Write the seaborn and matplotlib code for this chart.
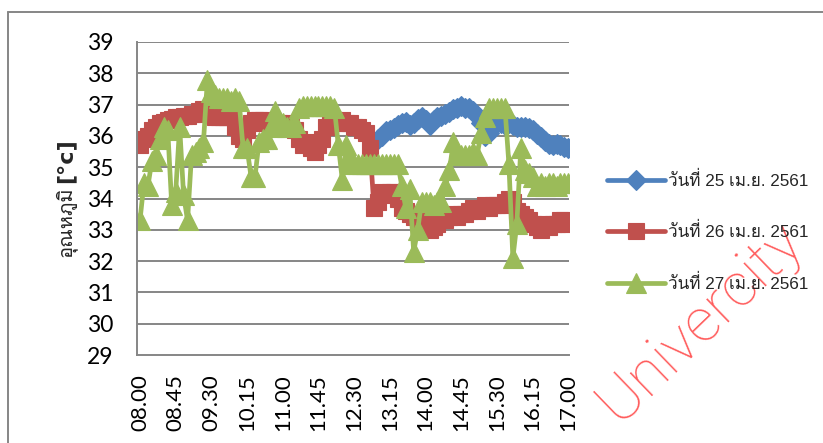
import numpy as np
import pandas as pd
import matplotlib
matplotlib.use("Agg")
import matplotlib.pyplot as plt
from matplotlib.lines import Line2D
from matplotlib import font_manager as fm
from matplotlib.ft2font import FT2Font
import seaborn as sns

# ---------------------------------------------------------------- data
# readings every 5 minutes from 08.00 to 17.00 (109 samples)
times = [f"{8 + m // 60:02d}.{m % 60:02d}" for m in range(0, 541, 5)]
tick_labels = ["08.00", "08.45", "09.30", "10.15", "11.00", "11.45", "12.30",
               "13.15", "14.00", "14.45", "15.30", "16.15", "17.00"]
series_names = ["วันที่ 25 เม.ย. 2561", "วันที่ 26 เม.ย. 2561", "วันที่ 27 เม.ย. 2561"]

nan = float("nan")
temp_25 = [nan] * 59 + [
    35.8, 35.9, 36.0, 36.15, 36.2, 36.25, 36.35, 36.4, 36.45, 36.35,
    36.4, 36.55, 36.6, 36.5, 36.35, 36.5, 36.6, 36.65, 36.7, 36.75,
    36.85, 36.9, 36.95, 36.9, 36.9, 36.8, 36.65, 36.4, 36.0, 36.1,
    36.3, 36.45, 36.4, 36.35, 36.4, 36.35, 36.3, 36.3, 36.3, 36.25,
    36.2, 36.05, 35.95, 35.85, 35.75, 35.7, 35.75, 35.7, 35.65, 35.6]

temp_26 = [
    35.7, 35.9, 36.0, 36.2, 36.3, 36.4, 36.45, 36.5, 36.55, 36.6,
    36.6, 36.65, 36.65, 36.7, 36.7, 36.8, 36.85, 36.8, 36.7, 36.6,
    36.6, 36.6, 36.6, 36.6, 36.3, 36.0, 35.9, 36.2, 36.4, 36.5,
    36.5, 36.5, 36.4, 36.4, 36.3, 36.4, 36.3, 36.4, 36.3, 36.2,
    35.9, 35.7, 35.8, 35.6, 35.5, 35.7, 35.9, 36.3, 36.5, 36.5,
    36.4, 36.5, 36.4, 36.4, 36.3, 36.3, 36.2, 36.1, 35.6, 33.7,
    33.9, 34.2, 34.1, 34.2, 34.2, 34.0, 33.7, 33.6, 33.5, 33.4,
    33.3, 33.4, 33.1, 33.0, 33.1, 33.2, 33.4, 33.3, 33.4, 33.5,
    33.4, 33.5, 33.5, 33.6, 33.7, 33.6, 33.7, 33.8, 33.7, 33.8,
    33.8, 33.8, 33.9, 34.0, 33.9, 33.6, 33.5, 33.4, 33.3, 33.2,
    33.1, 33.0, 33.2, 33.1, 33.2, 33.2, 33.3, 33.3, 33.2]

temp_27 = [
    33.3, 34.5, 34.4, 35.2, 35.4, 35.9, 36.3, 36.2, 33.8, 34.2,
    36.3, 34.1, 33.3, 35.4, 35.5, 35.6, 35.8, 37.8, 37.4, 37.3,
    37.2, 37.2, 37.2, 37.1, 37.2, 37.1, 35.6, 35.6, 34.7, 34.7,
    35.8, 35.9, 35.9, 36.3, 36.8, 36.5, 36.4, 36.3, 36.3, 36.4,
    36.9, 36.95, 36.95, 36.95, 36.95, 36.95, 36.95, 36.95, 36.95, 36.9,
    35.7, 34.6, 35.7, 35.2, 35.1, 35.1, 35.1, 35.1, 35.1, 35.1,
    35.1, 35.1, 35.1, 35.1, 35.1, 35.1, 34.4, 33.7, 34.3, 32.3,
    33.0, 33.9, 33.9, 33.9, 33.8, 33.9, 33.9, 34.4, 34.9, 35.8,
    35.4, 35.4, 35.4, 35.4, 35.5, 35.4, 36.1, 36.6, 36.9, 36.9,
    36.9, 36.9, 36.9, 35.1, 32.1, 33.2, 35.6, 34.9, 34.8, 34.7,
    34.4, 34.5, 34.4, 34.5, 34.5, 34.4, 34.5, 34.5, 34.5]

colors = ["#4F81BD", "#C0504D", "#9BBB59"]
markers = ["D", "s", "^"]
marker_sizes = [10, 12, 14]

# ---------------------------------------------------------------- fonts
def _has_thai(path):
    try:
        cmap = FT2Font(path).get_charmap()
        return 0x0E27 in cmap and 0x0E34 in cmap and 0x0E13 in cmap
    except Exception:
        return False

thai_family = None
for entry in fm.fontManager.ttflist:
    if _has_thai(entry.fname):
        thai_family = entry.name
        break

sns.set_theme(style="white")
num_font = "Lato"
thai_fonts = ["Liberation Sans"] + ([thai_family] if thai_family else []) + ["DejaVu Sans"]
ylab_fonts = ([thai_family] if thai_family else []) + ["DejaVu Sans"]
plt.rcParams["font.family"] = [num_font, "DejaVu Sans"]

# ---------------------------------------------------------------- frame
df = pd.DataFrame({
    "idx": np.tile(np.arange(len(times)), 3),
    "time": times * 3,
    "temp": temp_25 + temp_26 + temp_27,
    "series": np.repeat(series_names, len(times)),
})

W, H = 823, 443
fig = plt.figure(figsize=(W / 100, H / 100), dpi=100)
ax = fig.add_axes([137 / W, 1 - 355 / H, (569 - 137) / W, (355 - 42) / H])

grid_c = "#868686"
for v in range(30, 40):
    ax.axhline(v, color=grid_c, lw=1.4, zorder=0)

for name, c, m, ms in zip(series_names, colors, markers, marker_sizes):
    sub = df[df["series"] == name].dropna()
    sns.lineplot(data=sub, x="idx", y="temp", ax=ax, color=c, lw=3.4,
                 marker=m, markersize=ms, markeredgecolor=c, markeredgewidth=0.8,
                 estimator=None, sort=False, legend=False)

ax.set_xlim(-0.75, 108.15)
ax.set_ylim(29, 39)
ax.set_yticks(range(29, 40))
ax.set_xticks([times.index(t) for t in tick_labels])
ax.set_xticklabels(tick_labels, rotation=90)
ax.tick_params(axis="y", length=0, pad=17, labelsize=16.5, colors="black")
ax.tick_params(axis="x", length=0, pad=14, labelsize=16, colors="black")
ax.set_xlabel("")
ax.set_ylabel("")
for s in ["top", "right"]:
    ax.spines[s].set_visible(False)
for s in ["left", "bottom"]:
    ax.spines[s].set_color(grid_c)
    ax.spines[s].set_linewidth(1.4)

# y axis title: Thai word plus bold unit
fig.text(71 / W, 1 - 257 / H, "อุณหภูมิ", rotation=90, rotation_mode="anchor",
         ha="left", va="baseline", fontsize=14.5, family=ylab_fonts)
fig.text(71 / W, 1 - 183 / H, "[°c]", rotation=90, rotation_mode="anchor",
         ha="left", va="baseline", fontsize=16, fontweight="bold",
         family=["DejaVu Sans"])

# legend
handles = [Line2D([0], [0], color=c, lw=3.4, marker=m, markersize=ms,
                  markeredgecolor=c, markeredgewidth=0.8)
           for c, m, ms in zip(colors, markers, marker_sizes)]
fig.legend(handles, series_names, loc="center left",
           bbox_to_anchor=(607 / W, 1 - 231 / H), frameon=False,
           borderpad=0, borderaxespad=0, handlelength=3.4, handletextpad=0.15,
           labelspacing=1.95, prop={"family": thai_fonts, "size": 12.3})

# chart area border
fig.add_artist(Line2D([8 / W, 8 / W], [0, 1 - 12 / H], color=grid_c, lw=1.4,
                      transform=fig.transFigure))
fig.add_artist(Line2D([8 / W, 1], [1 - 12 / H, 1 - 12 / H], color=grid_c, lw=1.4,
                      transform=fig.transFigure))

# watermark
fig.text(701 / W, 1 - 322 / H, "Univercity", rotation=44, ha="center", va="center",
         fontsize=44, color="#ff4a4a", alpha=0.9, fontweight="light",
         family=["Roboto", "Open Sans", "DejaVu Sans"])

fig.savefig("out.png", dpi=100)
